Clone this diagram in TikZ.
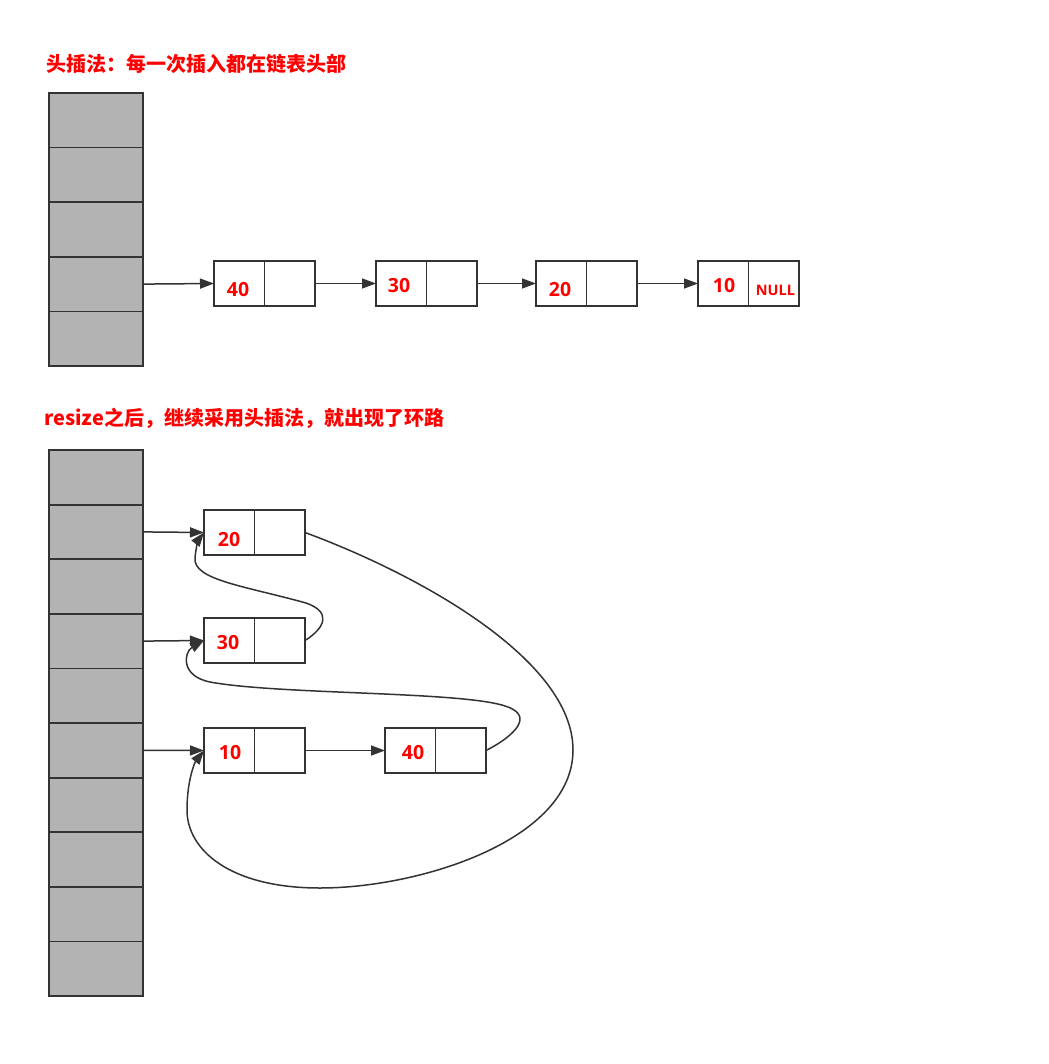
\documentclass[tikz,border=0pt]{standalone}
\usepackage{fontspec}
\setmainfont{Open Sans}
\newfontfamily\cjk{Noto Sans CJK SC}
\usetikzlibrary{arrows.meta}
\definecolor{ln}{HTML}{333333}
\definecolor{cellfill}{HTML}{B3B3B3}
\definecolor{txt}{HTML}{FF0000}
\begin{document}
\begin{tikzpicture}[x=1pt,y=-1pt,
 cell/.style={draw=ln,line width=1.8pt,fill=cellfill,minimum width=94pt,minimum height=54.6pt,inner sep=0pt,outer sep=0pt},
 part/.style={draw=ln,line width=1.8pt,fill=white,minimum width=50.5pt,minimum height=44.5pt,inner sep=0pt,outer sep=0pt},
 num/.style={text=txt,font=\fontsize{19.5}{19.5}\selectfont\bfseries,inner sep=0pt},
 small/.style={text=txt,font=\fontsize{14.5}{14.5}\selectfont\bfseries,inner sep=0pt},
 title/.style={text=txt,font=\cjk\fontsize{20}{20}\selectfont\bfseries,inner sep=0pt,anchor=west},
 link/.style={draw=ln,line width=1.5pt,-{Triangle[length=14pt,width=10pt]}},
]
\useasboundingbox (0,0) rectangle (1048,1064);
\fill[white] (0,0) rectangle (1048,1064);

% titles
\node[title] (title1) at (46,64) {头插法：每一次插入都在链表头部};
\node[title] (title2) at (44,418) {resize之后，继续采用头插法，就出现了环路};

% arrays
\foreach \i in {1,...,5} \node[cell] (c\i) at (96,{93+54.6*(\i-0.5)}) {};
\foreach \i in {1,...,10} \node[cell] (d\i) at (96,{450+54.6*(\i-0.5)}) {};

% top list
\node[part] (t40) at (239.25,283.5) {};
\node[part] (t40r) at (289.75,283.5) {};
\node[part] (t30) at (401.25,283.5) {};
\node[part] (t30r) at (451.75,283.5) {};
\node[part] (t20) at (561.25,283.5) {};
\node[part] (t20r) at (611.75,283.5) {};
\node[part] (t10) at (723.25,283.5) {};
\node[part] (t10r) at (773.75,283.5) {};
\node[num] (l40) at (238,289.5) {40};
\node[num] (l30) at (399,286) {30};
\node[num] (l20) at (560,290) {20};
\node[num] (l10) at (724,285.5) {10};
\node[small] (lnull) at (775.5,290) {NULL};

\draw[link] (c4.east) -- (t40.west);
\draw[link] (t40r.east) -- (t30.west);
\draw[link] (t30r.east) -- (t20.west);
\draw[link] (t20r.east) -- (t10.west);

% bottom list
\node[part] (b20) at (229.25,532.5) {};
\node[part] (b20r) at (279.75,532.5) {};
\node[part] (b30) at (229.25,640.5) {};
\node[part] (b30r) at (279.75,640.5) {};
\node[part] (b10) at (229.25,750.5) {};
\node[part] (b10r) at (279.75,750.5) {};
\node[part] (b40) at (410.25,750.5) {};
\node[part] (b40r) at (460.75,750.5) {};
\node[num] (m20) at (229,540) {20};
\node[num] (m30) at (228,643) {30};
\node[num] (m10) at (230,752.5) {10};
\node[num] (m40) at (413,752.5) {40};

\draw[link] (d2.east) -- (b20.west);
\draw[link] (d4.east) -- (b30.west);
\draw[link] (d6.east) -- (b10.west);
\draw[link] (b10r.east) -- (b40.west);

% loops
\draw[link] (b30r.east) .. controls (325,628) and (332,612) .. (306,603)
  .. controls (245,586) and (193,580) .. (195,558)
  .. controls (196,546) and (199,539) .. (b20.west);
\draw[link] (b40r.east) .. controls (507,740) and (537,718) .. (508,707)
  .. controls (468,691) and (280,695) .. (210,682)
  .. controls (180,676) and (184,652) .. (b30.west);
\draw[link] (b20r.east) .. controls (420,575) and (573,660) .. (573,750)
  .. controls (573,840) and (420,888) .. (320,888)
  .. controls (230,888) and (187,850) .. (187,810)
  .. controls (187,780) and (195,762) .. (b10.west);
\end{tikzpicture}
\end{document}
